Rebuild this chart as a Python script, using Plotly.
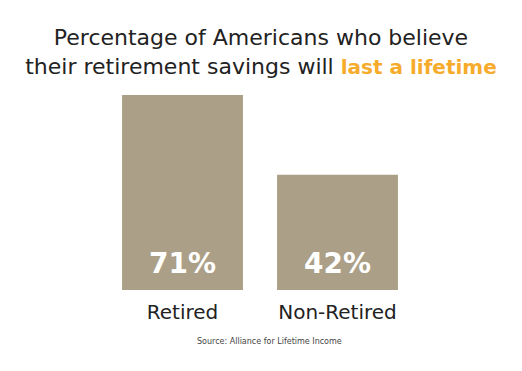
import plotly.graph_objects as go

categories = ["Retired", "Non-Retired"]
values = [71, 42]
value_labels = ["71%", "42%"]

BAR = "#ab9f87"
ORANGE = "#f6ab2b"
FONT = "DejaVu Sans"

fig = go.Figure()
fig.add_trace(go.Bar(
    x=categories, y=values, marker=dict(color=BAR, line=dict(width=0)),
    width=0.78, hoverinfo="skip",
))

for c, v, t in zip(categories, values, value_labels):
    fig.add_annotation(x=c, y=0, text=f"<b>{t}</b>", showarrow=False,
                       yanchor="bottom", yshift=8,
                       font=dict(family=FONT, size=28, color="white"))

fig.update_layout(
    width=522, height=371,
    margin=dict(l=105, r=107, t=95, b=81),
    paper_bgcolor="white", plot_bgcolor="white",
    showlegend=False,
    title=dict(
        text="Percentage of Americans who believe<br>their retirement savings will "
             f"<b><span style='color:{ORANGE};font-size:20px'>last a lifetime</span></b>",
        x=0.5, xanchor="center", y=0.878, yanchor="top",
        font=dict(family=FONT, size=22, color="#222222"),
    ),
    xaxis=dict(showgrid=False, showline=False, zeroline=False, ticks="",
               tickfont=dict(family=FONT, size=20, color="#222222"),
               ticklabelstandoff=8, range=[-0.5, 1.5]),
    yaxis=dict(visible=False, range=[0, 71]),
)
fig.add_annotation(x=0.532, xref="paper", y=-0.265, yref="paper", yanchor="middle",
                   text="Source: Alliance for Lifetime Income", showarrow=False,
                   font=dict(family=FONT, size=8, color="#444444"))

fig.write_html("out.html", config={"displayModeBar": False},
               post_script="document.body.style.margin='0';")
